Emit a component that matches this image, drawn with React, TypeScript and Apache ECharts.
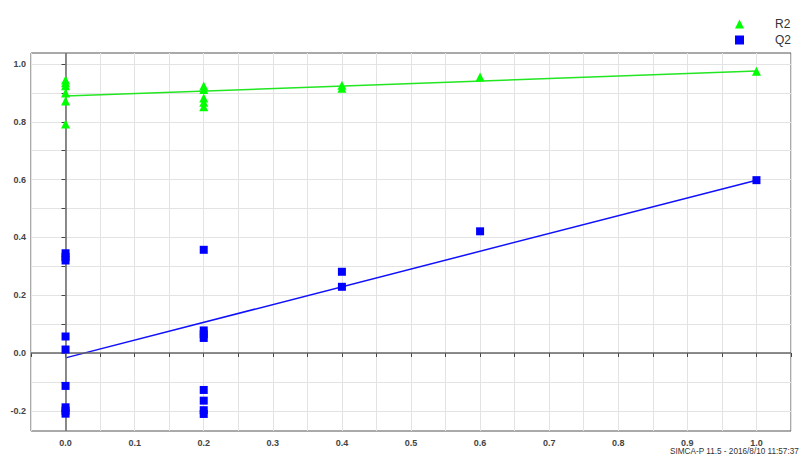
import React, { useEffect, useRef } from "react";
import * as echarts from "echarts";

// R2 permutation values: [correlation, R2]
const r2Points: number[][] = [
  [0, 0.945], [0, 0.935], [0, 0.925], [0, 0.9], [0, 0.872], [0, 0.792],
  [0.2, 0.924], [0.2, 0.912], [0.2, 0.882], [0.2, 0.868], [0.2, 0.852],
  [0.4, 0.926], [0.4, 0.916],
  [0.6, 0.955],
  [1.0, 0.975],
];
// Q2 permutation values: [correlation, Q2]
const q2Points: number[][] = [
  [0, 0.345], [0, 0.332], [0, 0.32], [0, 0.057], [0, 0.012],
  [0, -0.114], [0, -0.188], [0, -0.2], [0, -0.21],
  [0.2, 0.357], [0.2, 0.078], [0.2, 0.065], [0.2, 0.052],
  [0.2, -0.128], [0.2, -0.165], [0.2, -0.198], [0.2, -0.211],
  [0.4, 0.281], [0.4, 0.229],
  [0.6, 0.421],
  [1.0, 0.598],
];
// regression lines (intercept at 0, original at 1)
const r2Line: number[][] = [[0, 0.889], [1, 0.976]];
const q2Line: number[][] = [[0, -0.017], [1, 0.598]];

const yTickValues = [-0.2, -0.1, 0, 0.1, 0.2, 0.3, 0.4, 0.5, 0.6, 0.7, 0.8, 0.9, 1.0];
const yLabelValues = [-0.2, 0, 0.2, 0.4, 0.6, 0.8, 1.0];
const footer = "SIMCA-P 11.5 - 2016/8/10 11:57:37";

export default function App() {
  const ref = useRef<HTMLDivElement>(null);
  useEffect(() => {
    if (!ref.current) return;
    const chart = echarts.init(ref.current, null, { renderer: "svg" });
    const font = "Liberation Sans, Arial, sans-serif";
    chart.setOption({
      animation: false,
      backgroundColor: "#fff",
      textStyle: { fontFamily: font },
      grid: { left: 31, right: 9, top: 53, bottom: 27, show: true, borderColor: "#555", borderWidth: 1 },
      legend: {
        orient: "vertical",
        left: 730,
        top: 13,
        itemGap: 4,
        itemWidth: 9,
        itemHeight: 9,
        textStyle: { fontSize: 12, color: "#333", fontFamily: font, padding: [0, 0, 0, 26] },
        data: [
          { name: "R2", icon: "triangle" },
          { name: "Q2", icon: "rect" },
        ],
      },
      xAxis: {
        type: "value",
        min: -0.05,
        max: 1.05,
        interval: 0.05,
        axisLine: { show: false },
        axisTick: { show: true, inside: false, length: 4, lineStyle: { color: "#444" } },
        splitLine: { show: true, lineStyle: { color: "#e3e3e3", width: 1 } },
        axisLabel: {
          fontSize: 9,
          fontWeight: "bold",
          color: "#444",
          margin: 7,
          formatter: (v: number) => {
            const r = Math.round(v * 100);
            if (r < 0 || r > 100 || r % 10 !== 0) return "";
            return (r / 100).toFixed(1);
          },
        },
      },
      yAxis: {
        type: "value",
        min: -0.27,
        max: 1.038,
        axisLine: { show: false },
        axisTick: { show: true, length: 4, customValues: yTickValues, lineStyle: { color: "#444" } },
        splitLine: { show: true, lineStyle: { color: "#e3e3e3", width: 1 } },
        axisLabel: {
          fontSize: 9,
          fontWeight: "bold",
          color: "#444",
          margin: 5,
          customValues: yLabelValues,
          formatter: (v: number) => v.toFixed(1),
        },
      },
      graphic: [
        {
          type: "text",
          left: 670,
          top: 447,
          z: 100,
          style: {
            text: footer,
            fontSize: 8.2,
            fill: "#333",
            fontFamily: font,
            backgroundColor: "#fff",
          },
        },
      ],
      series: [
        {
          name: "zero",
          type: "line",
          data: [],
          silent: true,
          markLine: {
            silent: true,
            symbol: ["none", "none"],
            label: { show: false },
            lineStyle: { color: "#666", width: 1.5, type: "solid" },
            data: [{ xAxis: 0 }, { yAxis: 0 }],
          },
        },
        {
          name: "R2 line",
          type: "line",
          data: r2Line,
          showSymbol: false,
          lineStyle: { color: "#22e622", width: 1.5 },
          z: 3,
        },
        {
          name: "Q2 line",
          type: "line",
          data: q2Line,
          showSymbol: false,
          lineStyle: { color: "#1010ff", width: 1.5 },
          z: 3,
        },
        {
          name: "R2",
          type: "scatter",
          symbol: "triangle",
          symbolSize: 9,
          data: r2Points,
          itemStyle: { color: "#00ff00", opacity: 1 },
          z: 5,
        },
        {
          name: "Q2",
          type: "scatter",
          symbol: "rect",
          symbolSize: 8,
          data: q2Points,
          itemStyle: { color: "#0000ff", opacity: 1 },
          z: 5,
        },
      ],
    });
    return () => chart.dispose();
  }, []);
  return <div ref={ref} style={{ width: 800, height: 458, position: "absolute", left: 0, top: 0 }} />;
}
